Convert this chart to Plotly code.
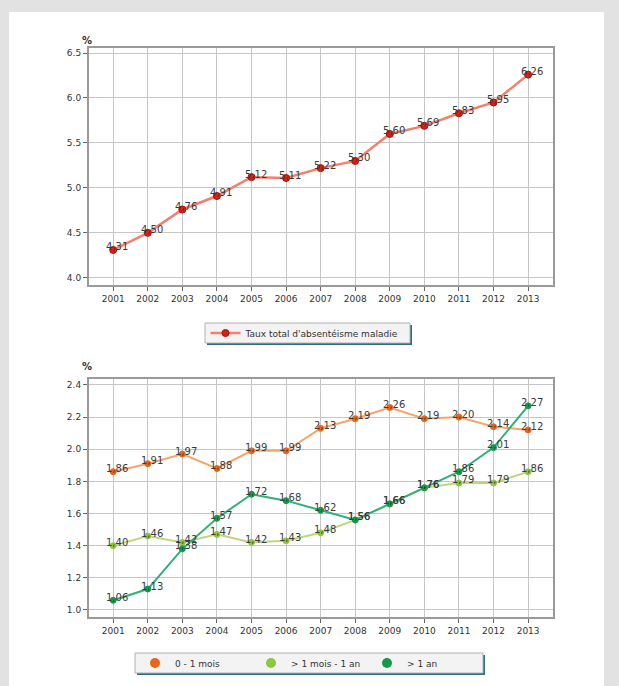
import plotly.graph_objects as go

W, H = 619, 686

years = list(range(2001, 2014))
year_labels = [str(y) for y in years]

taux_total = [4.31, 4.50, 4.76, 4.91, 5.12, 5.11, 5.22, 5.30, 5.60, 5.69, 5.83, 5.95, 6.26]

mois_0_1 = [1.86, 1.91, 1.97, 1.88, 1.99, 1.99, 2.13, 2.19, 2.26, 2.19, 2.20, 2.14, 2.12]
mois_1_an = [1.40, 1.46, 1.42, 1.47, 1.42, 1.43, 1.48, 1.56, 1.66, 1.76, 1.79, 1.79, 1.86]
plus_1_an = [1.06, 1.13, 1.38, 1.57, 1.72, 1.68, 1.62, 1.56, 1.66, 1.76, 1.86, 2.01, 2.27]

top_ticks = [4.0, 4.5, 5.0, 5.5, 6.0, 6.5]
bot_ticks = [1.0, 1.2, 1.4, 1.6, 1.8, 2.0, 2.2, 2.4]

FONT = "DejaVu Sans"


def px_x(p):
    return p / W


def px_y(p):
    return 1 - p / H


fig = go.Figure()

# --- top chart ---
fig.add_trace(go.Scatter(
    x=years, y=taux_total, mode="lines+markers",
    name="Taux total d'absentéisme maladie",
    line=dict(color="#f2806e", width=2.5),
    marker=dict(color="#e01e10", size=7, line=dict(color="#a01010", width=1)),
    xaxis="x", yaxis="y", legend="legend",
))

# --- bottom chart ---
series = [
    ("0 - 1 mois", mois_0_1, "#f5a46a", "#e8661a"),
    ("> 1 mois - 1 an", mois_1_an, "#bcd77e", "#8dc63f"),
    ("> 1 an", plus_1_an, "#2fb07a", "#139a4c"),
]
for name, vals, lc, mc in series:
    fig.add_trace(go.Scatter(
        x=years, y=vals, mode="lines+markers", name=name, showlegend=False,
        line=dict(color=lc, width=2),
        marker=dict(color=mc, size=6, line=dict(color=mc, width=1)),
        xaxis="x2", yaxis="y2",
    ))
for name, vals, lc, mc in series:
    fig.add_trace(go.Scatter(
        x=[None], y=[None], mode="markers", name=name,
        marker=dict(color=mc, size=10),
        xaxis="x2", yaxis="y2", legend="legend2",
    ))

annotations = []


def label_points(vals, xref, yref):
    for x, v in zip(years, vals):
        annotations.append(dict(
            x=x, y=v, xref=xref, yref=yref, text=f"{v:.2f}".replace(".", ","),
            showarrow=False, xshift=4, yshift=3,
            font=dict(family=FONT, size=10, color="#3a3a3a"),
        ))


label_points(taux_total, "x", "y")
for _, vals, _, _ in series:
    label_points(vals, "x2", "y2")

annotations.append(dict(x=px_x(80), y=px_y(33), xref="paper", yref="paper", text="<b>%</b>",
                        showarrow=False, font=dict(family=FONT, size=10, color="#333")))
annotations.append(dict(x=px_x(80), y=px_y(366), xref="paper", yref="paper", text="<b>%</b>",
                        showarrow=False, font=dict(family=FONT, size=10, color="#333")))

shapes = [
    # white panel
    dict(type="rect", xref="paper", yref="paper", x0=px_x(9), x1=px_x(604), y0=px_y(686), y1=px_y(12),
         fillcolor="white", line=dict(width=0), layer="below"),
    # legend 1 shadow + box
    dict(type="rect", xref="paper", yref="paper", x0=px_x(207), x1=px_x(412), y0=px_y(345), y1=px_y(325),
         fillcolor="#2f6f80", line=dict(width=0), layer="below"),
    dict(type="rect", xref="paper", yref="paper", x0=px_x(205), x1=px_x(410), y0=px_y(343), y1=px_y(323),
         fillcolor="#f3f3f3", line=dict(color="#b0b0b0", width=1), layer="below"),
    # legend 2 shadow + box
    dict(type="rect", xref="paper", yref="paper", x0=px_x(137), x1=px_x(485), y0=px_y(675), y1=px_y(655),
         fillcolor="#2f6f80", line=dict(width=0), layer="below"),
    dict(type="rect", xref="paper", yref="paper", x0=px_x(135), x1=px_x(483), y0=px_y(673), y1=px_y(653),
         fillcolor="#f3f3f3", line=dict(color="#b0b0b0", width=1), layer="below"),
]

axis_common = dict(
    showline=True, mirror=True, linecolor="#9a9a9a", linewidth=2,
    showgrid=True, gridcolor="#c6c6c6", gridwidth=1,
    ticks="outside", ticklen=4, tickcolor="#666",
    tickfont=dict(family=FONT, size=9, color="#333"),
    zeroline=False,
)

fig.update_layout(
    width=W, height=H,
    margin=dict(l=0, r=0, t=0, b=0),
    paper_bgcolor="#e2e2e2",
    plot_bgcolor="#e8e8e8",
    font=dict(family=FONT, size=9, color="#333"),
    xaxis=dict(domain=[px_x(89), px_x(553)], anchor="y", range=[2000.3, 2013.72],
               tickvals=years, ticktext=year_labels, **axis_common),
    yaxis=dict(domain=[px_y(285), px_y(48)], anchor="x", range=[3.92, 6.556],
               tickvals=top_ticks, ticktext=[f"{t:.1f}" for t in top_ticks], **axis_common),
    xaxis2=dict(domain=[px_x(89), px_x(553)], anchor="y2", range=[2000.3, 2013.72],
                tickvals=years, ticktext=year_labels, **axis_common),
    yaxis2=dict(domain=[px_y(617), px_y(379)], anchor="x2", range=[0.956, 2.437],
                tickvals=bot_ticks, ticktext=[f"{t:.1f}" for t in bot_ticks], **axis_common),
    legend=dict(x=px_x(305), y=px_y(333), xanchor="center", yanchor="middle",
                orientation="h", bgcolor="rgba(0,0,0,0)", borderwidth=0,
                font=dict(family=FONT, size=9, color="#333"), itemwidth=30),
    legend2=dict(x=px_x(135), y=px_y(663), xanchor="left", yanchor="middle",
                 orientation="h", bgcolor="rgba(0,0,0,0)", borderwidth=0,
                 font=dict(family=FONT, size=9, color="#333"),
                 entrywidth=71, entrywidthmode="pixels", itemwidth=30),
    annotations=annotations,
    shapes=shapes,
)

fig.write_html(
    "out.html",
    config={"displayModeBar": False},
    post_script="document.body.style.margin='0';document.body.style.background='#e2e2e2';",
)
